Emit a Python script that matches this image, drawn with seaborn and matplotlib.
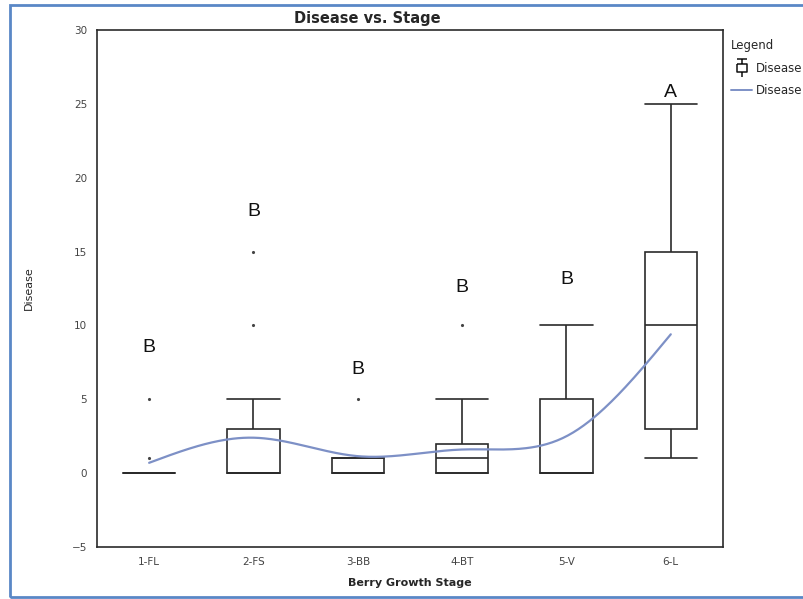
import numpy as np
import pandas as pd
import matplotlib
matplotlib.use('Agg')
import matplotlib.pyplot as plt
from matplotlib.path import Path
from matplotlib.lines import Line2D
from matplotlib.patches import Rectangle
import seaborn as sns

# Disease ratings per berry growth stage (observations read back from the box plot)
stages = ['1-FL', '2-FS', '3-BB', '4-BT', '5-V', '6-L']
fl = [0, 0, 0, 0, 0, 0, 0, 0, 0, 0, 1, 5]
fs = [0, 0, 0, 0, 0, 0, 0, 3, 3, 3, 5, 10, 15]
bb = [0, 0, 0, 0, 0, 1, 1, 1, 5]
bt = [0, 0, 0, 0, 0, 1, 1, 1, 2, 2, 2, 5, 10]
v = [0, 0, 0, 0, 0, 2, 5, 5, 10]
l = [1, 3, 3, 5, 10, 12, 15, 20, 25]

# smoothed trend line values at each stage
trend = [0.7, 2.4, 1.15, 1.6, 2.5, 9.4]

# significance letters and their heights
letters = ['B', 'B', 'B', 'B', 'B', 'A']
letter_y = [8.5, 17.7, 7.0, 12.6, 13.1, 25.8]

df = pd.DataFrame({
    'Berry Growth Stage': np.repeat(stages, [len(fl), len(fs), len(bb), len(bt), len(v), len(l)]),
    'Disease': fl + fs + bb + bt + v + l,
})


def natural_spline(x, y, xs):
    x = np.asarray(x, float)
    y = np.asarray(y, float)
    n = len(x)
    h = np.diff(x)
    A = np.zeros((n, n))
    r = np.zeros(n)
    A[0, 0] = A[-1, -1] = 1
    for i in range(1, n - 1):
        A[i, i - 1] = h[i - 1]
        A[i, i] = 2 * (h[i - 1] + h[i])
        A[i, i + 1] = h[i]
        r[i] = 6 * ((y[i + 1] - y[i]) / h[i] - (y[i] - y[i - 1]) / h[i - 1])
    M = np.linalg.solve(A, r)
    out = np.empty_like(xs)
    for k, xv in enumerate(xs):
        i = min(max(np.searchsorted(x, xv) - 1, 0), n - 2)
        t0, t1 = x[i + 1] - xv, xv - x[i]
        out[k] = (M[i] * t0 ** 3 + M[i + 1] * t1 ** 3) / (6 * h[i]) \
            + (y[i] / h[i] - M[i] * h[i] / 6) * t0 + (y[i + 1] / h[i] - M[i + 1] * h[i] / 6) * t1
    return out


sns.set_style('white')
plt.rcParams['font.family'] = ['DejaVu Sans']

fig = plt.figure(figsize=(8.04, 5.99), dpi=100)
ax = fig.add_axes([0.1206, 0.0868, 0.7786, 0.8631])

line_col = '#2b2b2b'
sns.boxplot(data=df, x='Berry Growth Stage', y='Disease', order=stages, ax=ax,
            width=0.5, color='white', linecolor=line_col, linewidth=1.2,
            fliersize=2.5, capwidths=0.5,
            flierprops=dict(marker='.', markerfacecolor='#444444', markeredgecolor='#444444'))

xs = np.linspace(0, len(stages) - 1, 300)
curve = pd.DataFrame({'x': xs, 'y': natural_spline(np.arange(len(stages)), trend, xs)})
sns.lineplot(data=curve, x='x', y='y', ax=ax, color='#7d90c6', linewidth=1.6)

for i, (txt, yv) in enumerate(zip(letters, letter_y)):
    ax.text(i, yv, txt, ha='center', va='center', fontsize=14,
            fontfamily='Liberation Sans', color='#111111')

ax.set_xlim(-0.5, len(stages) - 0.5)
ax.set_ylim(-5, 30)
ax.set_yticks(range(-5, 31, 5))
ax.tick_params(axis='y', length=5, width=1, color=line_col, labelsize=7.5, labelcolor='#444444', pad=2)
ax.tick_params(axis='x', length=0, labelsize=7.5, labelcolor='#444444', pad=7)
for s in ax.spines.values():
    s.set_color(line_col)
    s.set_linewidth(1.2)

ax.set_xlabel('Berry Growth Stage', fontsize=8, fontweight='bold', labelpad=8)
ax.set_ylabel('Disease', fontsize=8)
ax.yaxis.set_label_coords(-0.10, 0.5)
fig.text(367 / 804, 1 - 18 / 599, 'Disease vs. Stage', ha='center', va='center',
         fontsize=10.5, fontweight='bold')

# legend symbol: small box with whiskers
box_marker = Path([(-0.5, 1), (0.5, 1), (0, 1), (0, 0.45), (-0.5, 0.45), (0.5, 0.45),
                   (0.5, -0.45), (-0.5, -0.45), (-0.5, 0.45), (0, -0.45), (0, -1)],
                  [Path.MOVETO, Path.LINETO, Path.MOVETO, Path.LINETO, Path.MOVETO, Path.LINETO,
                   Path.LINETO, Path.LINETO, Path.LINETO, Path.MOVETO, Path.LINETO])
handles = [
    Line2D([], [], linestyle='none', marker=box_marker, markersize=13, markerfacecolor='none',
           markeredgecolor='#111111', markeredgewidth=1.1),
    Line2D([], [], color='#7d90c6', linewidth=1.4),
]
leg = ax.legend(handles, ['Disease', 'Disease'], title='Legend', loc='upper left',
                bbox_to_anchor=(0.998, 1.0), frameon=False, fontsize=8.5, title_fontsize=8.5,
                handlelength=1.8, handletextpad=0.3, borderaxespad=0.4, labelspacing=0.8)
leg._legend_box.align = 'left'

fig.patches.append(Rectangle((10 / 804, 2 / 599), 1.2, 1 - 7 / 599, transform=fig.transFigure,
                             fill=False, edgecolor='#5a87c6', linewidth=2, clip_on=False))

fig.savefig('out.png', dpi=100)
